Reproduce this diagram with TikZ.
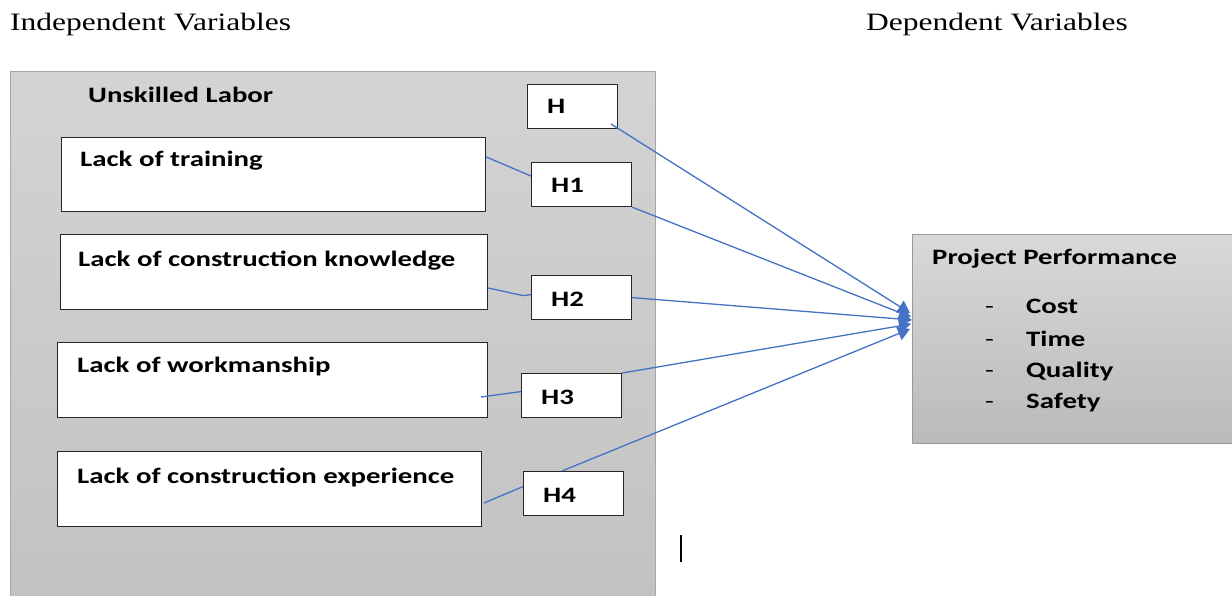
\documentclass[tikz,border=0pt]{standalone}
\usepackage{fontspec}
\setmainfont[FakeStretch=1.26]{Liberation Serif}
\newfontfamily\calfont[FakeStretch=1.31]{Carlito}
\usetikzlibrary{arrows.meta,calc}
\definecolor{conn}{HTML}{4472C4}
\begin{document}
\begin{tikzpicture}[x=1pt,y=-1pt,
  wbox/.style={draw=black!85,line width=1.2pt,fill=white,anchor=north west,inner sep=0pt},
  lbl/.style={font=\calfont\bfseries\fontsize{22}{26}\selectfont,anchor=base west,inner sep=0pt},
  dsh/.style={font=\calfont\fontsize{22}{26}\selectfont,anchor=base west,inner sep=0pt},
  ttl/.style={font=\fontsize{25}{30}\selectfont,anchor=base west,inner sep=0pt},
  ln/.style={draw=conn,line width=1.3pt},
  arr/.style={ln,-{Triangle[width=14pt,length=12pt]}}]
\useasboundingbox (0,0) rectangle (1232,596);
\fill[white] (0,0) rectangle (1232,596);
\node[ttl] (iv) at (10,31) {Independent Variables};
\node[ttl] (dv) at (866,31) {Dependent Variables};
% big grey box
\node[draw=black!35,line width=1pt,top color=black!17,bottom color=black!24,anchor=north west,minimum width=645pt,minimum height=530pt,inner sep=0pt] (ul) at (10,71) {};
\node[lbl] (ult) at (88,103) {Unskilled Labor};
% factor boxes
\node[wbox,minimum width=424pt,minimum height=74pt] (f1) at (61,137) {};
\node[lbl] (f1t) at (80,167) {Lack of training};
\node[wbox,minimum width=427pt,minimum height=75pt] (f2) at (60,234) {};
\node[lbl] (f2t) at (78,266) {Lack of construction knowledge};
\node[wbox,minimum width=430pt,minimum height=75pt] (f3) at (57,342) {};
\node[lbl] (f3t) at (77,372) {Lack of workmanship};
\node[wbox,minimum width=424pt,minimum height=75pt] (f4) at (57,451) {};
\node[lbl] (f4t) at (77,483) {Lack of construction experience};
% hypothesis boxes
\node[wbox,minimum width=90pt,minimum height=44pt] (h) at (527,84) {};
\node[lbl] (ht) at (547,114) {H};
\node[wbox,minimum width=100pt,minimum height=44pt] (h1) at (531,162) {};
\node[lbl] (h1t) at (551,193) {H1};
\node[wbox,minimum width=100pt,minimum height=44pt] (h2) at (531,275) {};
\node[lbl] (h2t) at (551,306) {H2};
\node[wbox,minimum width=100pt,minimum height=44pt] (h3) at (521,373) {};
\node[lbl] (h3t) at (541,404) {H3};
\node[wbox,minimum width=100pt,minimum height=44pt] (h4) at (523,471) {};
\node[lbl] (h4t) at (543,502) {H4};
% project performance
\node[draw=black!40,line width=1pt,top color=black!15,bottom color=black!27,anchor=north west,minimum width=330pt,minimum height=209pt,inner sep=0pt] (pp) at (912,234) {};
\node[lbl] (ppt) at (932,265) {Project Performance};
\node[dsh] (d1) at (985,313) {-};
\node[lbl] (c1) at (1026,313) {Cost};
\node[dsh] (d2) at (985,346) {-};
\node[lbl] (c2) at (1026,346) {Time};
\node[dsh] (d3) at (985,377) {-};
\node[lbl] (c3) at (1026,377) {Quality};
\node[dsh] (d4) at (985,408) {-};
\node[lbl] (c4) at (1026,408) {Safety};
% cursor mark
\coordinate (cu1) at (681,535);
\coordinate (cu2) at (681,562);
\draw[black,line width=1.2pt] (cu1) -- (cu2);
% connector end points
\coordinate (s3) at (481,397);
\coordinate (s4) at (484,503);
\coordinate (hs) at (611,124);
\coordinate (e0) at (910,313);
\coordinate (e1) at (911,317);
\coordinate (e2) at (912,320);
\coordinate (e3) at (911,324);
\coordinate (e4) at (910,329);
\draw[ln] ($(f1.north east)+(0,20)$) -- ($(h1.north west)+(0,14)$);
\draw[ln] ($(f2.north east)+(0,54)$) -- ($(h2.west)+(-8,-2)$) -- ($(h2.west)+(0,-3)$);
\draw[ln] (s3) -- ($(h3.west)+(0,-4)$);
\draw[ln] (s4) -- ($(h4.west)+(0,-7)$);
\draw[arr] (hs) -- (e0);
\draw[arr] (h1.south east) -- (e1);
\draw[arr] (h2.east) -- (e2);
\draw[arr] (h3.north east) -- (e3);
\draw[arr] ($(h4.north west)+(39,0)$) -- (e4);
\end{tikzpicture}
\end{document}
